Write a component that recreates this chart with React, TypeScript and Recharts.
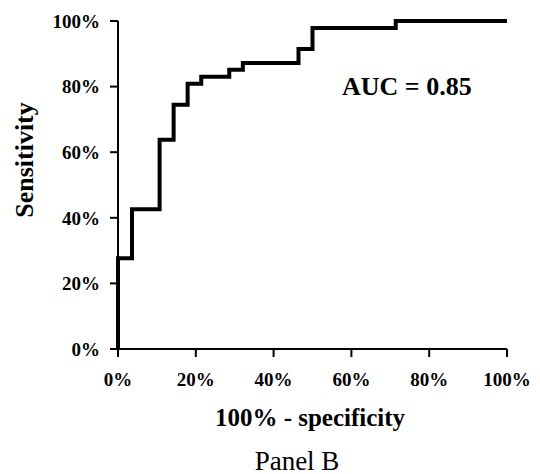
import React from "react";
import { LineChart, Line, XAxis, YAxis } from "recharts";

// ROC points (percent)
const fpr = [0, 0, 3.6, 10.7, 14.3, 17.9, 21.4, 28.6, 32.1, 46.4, 50.0, 71.4, 100];
const tpr = [0, 27.7, 42.6, 63.8, 74.5, 80.9, 83.0, 85.1, 87.2, 91.5, 97.9, 100, 100];
const xTicks = [0, 20, 40, 60, 80, 100];
const yTicks = [0, 20, 40, 60, 80, 100];

const data = fpr.map((x, i) => ({ fpr: x, tpr: tpr[i] }));

const serif = "'Liberation Serif', 'Times New Roman', serif";
const tickStyle = { fontSize: 19, fontWeight: 700, fontFamily: serif, fill: "#000" };

export default function App() {
  return (
    <div style={{ position: "absolute", left: 0, top: 0, width: 540, height: 474, background: "#fff", fontFamily: serif }}>
      <LineChart width={540} height={474} data={data} margin={{ top: 21, right: 33, bottom: 65, left: 40 }}>
        <XAxis
          dataKey="fpr"
          type="number"
          domain={[0, 100]}
          ticks={xTicks}
          tickFormatter={(v) => `${v}%`}
          tick={tickStyle}
          tickSize={8}
          tickMargin={16}
          height={60}
          stroke="#000"
          strokeWidth={2}
          interval={0}
        />
        <YAxis
          type="number"
          domain={[0, 100]}
          ticks={yTicks}
          tickFormatter={(v) => `${v}%`}
          tick={tickStyle}
          tickSize={8}
          tickMargin={10}
          width={78}
          stroke="#000"
          strokeWidth={2}
          interval={0}
        />
        <Line
          type="stepAfter"
          dataKey="tpr"
          stroke="#000"
          strokeWidth={4}
          dot={false}
          isAnimationActive={false}
        />
      </LineChart>

      {/* text overlays */}
      <div style={{ position: "absolute", left: 342, top: 72, fontSize: 26, fontWeight: 700, whiteSpace: "nowrap" }}>
        AUC = 0.85
      </div>
      <div style={{ position: "absolute", left: 310, top: 418, transform: "translate(-50%, -50%)", fontSize: 25, fontWeight: 700, whiteSpace: "nowrap" }}>
        100% - specificity
      </div>
      <div style={{ position: "absolute", left: 297, top: 461, transform: "translate(-50%, -50%)", fontSize: 27, whiteSpace: "nowrap" }}>
        Panel B
      </div>
      <div style={{ position: "absolute", left: 25, top: 160, transform: "translate(-50%, -50%) rotate(-90deg)", fontSize: 26, fontWeight: 700, whiteSpace: "nowrap" }}>
        Sensitivity
      </div>
    </div>
  );
}
